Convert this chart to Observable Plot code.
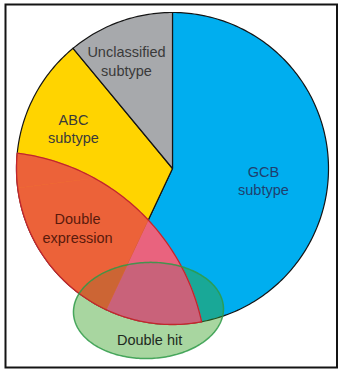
<!DOCTYPE html>
<html>
<head>
<meta charset="utf-8">
<script src="https://cdn.jsdelivr.net/npm/d3@7"></script>
<script src="https://cdn.jsdelivr.net/npm/@observablehq/plot@0.6"></script>
<style>
  html, body { margin: 0; padding: 0; background: #fff; }
  #chart { width: 342px; height: 372px; }
</style>
</head>
<body>
<div id="chart"></div>
<script>
// Cell-of-origin subtypes (share of cases, %), drawn clockwise from 12 o'clock
const subtypes = ["GCB\nsubtype", "ABC\nsubtype", "Unclassified\nsubtype"];
const shares = [57, 32, 11];
const subtypeColors = ["#00AEEF", "#FFD400", "#A7A9AC"];
const subtypeTextColors = ["#1F3F6E", "#3A3A3A", "#3A3A3A"];

// Overlapping groups drawn on top of the pie
const overlays = ["Double\nexpression", "Double hit"];
const overlayTextColors = ["#5A1A0C", "#1E2A1E"];
// tint of the double-expression area over each subtype, alone and inside double hit
const expressionTint = ["#E9637E", "#EC6239", "#E06A5A"];
const expressionHitTint = ["#C9627A", "#CC6534", "#C06050"];

// ---- layout (pixels) ----
const W = 342, H = 372;
const cx = 172, cy = 168, R = 156;           // pie centre and radius
const margin = {left: 5, right: 5.5, top: 4, bottom: 5};

// overlay shapes and label anchors, in pie-radius units (y up)
const expressionCircle = {x: -1.167, y: -1.276, r: 1.385};
const hitEllipse = {x: -0.154, y: -0.91, rx: 0.481, ry: 0.308, rotate: 2};
const subtypeLabelAt = [[0.583, -0.074], [-0.635, 0.26], [-0.295, 0.692]];
const overlayLabelAt = [[-0.609, -0.378], [-0.147, -1.096]];

// ---- geometry helpers ----
const deg = Math.PI / 180;
const arcPt = (a, r = 1) => [r * Math.sin(a), r * Math.cos(a)];
const ring = (f, n = 360) => d3.range(n).map(i => f(i / n * 2 * Math.PI));
const closed = p => p.length ? [...p, p[0]] : p;

const disk = ring(t => arcPt(t));
const lensCircle = ring(t => [expressionCircle.x + expressionCircle.r * Math.cos(t),
                              expressionCircle.y + expressionCircle.r * Math.sin(t)]);
const ellipse = ring(t => {
  const c = Math.cos(hitEllipse.rotate * deg), s = Math.sin(hitEllipse.rotate * deg);
  const ex = hitEllipse.rx * Math.cos(t), ey = hitEllipse.ry * Math.sin(t);
  return [hitEllipse.x + ex * c - ey * s, hitEllipse.y + ex * s + ey * c];
}, 240);

function sectorOutline(a0, a1) {
  const m = Math.max(2, Math.ceil((a1 - a0) / deg));
  const pts = [[0, 0]];
  for (let i = 0; i <= m; i++) pts.push(arcPt(a0 + (a1 - a0) * i / m));
  pts.push([0, 0]);
  return pts;
}
// convex pieces (≤ 90° each) of a sector
function sectorPieces(a0, a1) {
  const k = Math.max(1, Math.ceil((a1 - a0) / (Math.PI / 2) - 1e-9));
  return d3.range(k).map(j => sectorOutline(a0 + (a1 - a0) * j / k, a0 + (a1 - a0) * (j + 1) / k).slice(0, -1));
}
function signedArea(p) {
  let s = 0;
  for (let i = 0; i < p.length; i++) {
    const [x1, y1] = p[i], [x2, y2] = p[(i + 1) % p.length];
    s += x1 * y2 - x2 * y1;
  }
  return s / 2;
}
// Sutherland–Hodgman clip of a polygon by a convex polygon
function clip(subject, clipper) {
  const sgn = signedArea(clipper) > 0 ? 1 : -1;
  let out = subject;
  for (let i = 0; i < clipper.length && out.length; i++) {
    const A = clipper[i], B = clipper[(i + 1) % clipper.length];
    const side = p => sgn * ((B[0] - A[0]) * (p[1] - A[1]) - (B[1] - A[1]) * (p[0] - A[0]));
    const input = out; out = [];
    for (let j = 0; j < input.length; j++) {
      const P = input[j], Q = input[(j + 1) % input.length];
      const sp = side(P), sq = side(Q);
      if (sp >= 0) out.push(P);
      if ((sp >= 0) !== (sq >= 0)) {
        const t = sp / (sp - sq);
        out.push([P[0] + (Q[0] - P[0]) * t, P[1] + (Q[1] - P[1]) * t]);
      }
    }
  }
  return out;
}

const pie = d3.pie().sort(null).startAngle(0).endAngle(2 * Math.PI)(shares);
const XY = {x: d => d[0], y: d => d[1]};
const marks = [];

// pie slices
pie.forEach((s, i) => marks.push(Plot.line(sectorOutline(s.startAngle, s.endAngle),
  {...XY, fill: subtypeColors[i], stroke: "#151515", strokeWidth: 1.2, strokeLinejoin: "round"})));

// double-hit tint
marks.push(Plot.line(closed(ellipse), {...XY, fill: "#39A127", fillOpacity: 0.44, stroke: "none"}));

// double-expression area, tinted per underlying subtype
const lensInHit = clip(lensCircle, ellipse);
pie.forEach((s, i) => sectorPieces(s.startAngle, s.endAngle).forEach(piece => {
  const a = clip(lensCircle, piece);
  if (a.length > 2) marks.push(Plot.line(closed(a), {...XY, fill: expressionTint[i], stroke: expressionTint[i], strokeWidth: 0.6}));
  const b = clip(lensInHit, piece);
  if (b.length > 2) marks.push(Plot.line(closed(b), {...XY, fill: expressionHitTint[i], stroke: expressionHitTint[i], strokeWidth: 0.6}));
}));

// outlines of the two overlays
marks.push(Plot.line(closed(clip(lensCircle, disk)), {...XY, stroke: "#C1272D", strokeWidth: 1.3, strokeLinejoin: "round"}));
marks.push(Plot.line(closed(ellipse), {...XY, stroke: "#2E9A48", strokeWidth: 1.5, strokeOpacity: 0.85}));

// labels
const textStyle = {fontSize: 14.5, lineHeight: 1.28, textAnchor: "middle"};
marks.push(Plot.text(subtypes, {x: (d, i) => subtypeLabelAt[i][0], y: (d, i) => subtypeLabelAt[i][1],
  text: d => d, fill: (d, i) => subtypeTextColors[i], ...textStyle}));
marks.push(Plot.text(overlays, {x: (d, i) => overlayLabelAt[i][0], y: (d, i) => overlayLabelAt[i][1],
  text: d => d, fill: (d, i) => overlayTextColors[i], ...textStyle}));

marks.push(Plot.frame({stroke: "#141414", strokeWidth: 2}));

const chart = Plot.plot({
  width: W, height: H,
  marginLeft: margin.left, marginRight: margin.right, marginTop: margin.top, marginBottom: margin.bottom,
  x: {domain: [(margin.left - cx) / R, (W - margin.right - cx) / R], axis: null},
  y: {domain: [(cy - (H - margin.bottom)) / R, (cy - margin.top) / R], axis: null},
  color: {type: "identity"},
  style: {fontFamily: "'Liberation Sans', Arial, Helvetica, sans-serif", background: "#fff"},
  marks
});
document.getElementById("chart").append(chart);
</script>
</body>
</html>
